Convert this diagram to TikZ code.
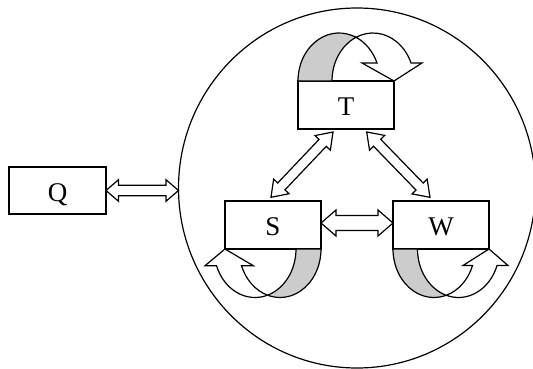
\documentclass[tikz,border=0pt]{standalone}
\usepackage{fontspec}
\setmainfont{Liberation Serif}
\usetikzlibrary{shapes.geometric,calc}
\tikzset{
  boxnode/.style={draw, line width=1.25pt, fill=white, minimum width=96pt, minimum height=48pt,
    inner sep=0pt, outer sep=0pt, font=\fontsize{27}{30}\selectfont, text height=21.9pt, text depth=0pt},
  ring/.style={draw, line width=1.2pt, ellipse, minimum width=357pt, minimum height=360pt,
    inner sep=0pt, outer sep=0pt},
  blockarrow/.style={draw, line width=1.2pt, fill=white, line join=miter},
  shadeband/.style={draw, line width=1.2pt, fill=black!20, line join=miter},
  frontband/.style={draw, line width=1.2pt, fill=white, line join=miter},
}
% #1 rx, #2 ry, #3 band thickness, #4 head base height, #5 inner barb, #6 outer barb, #7 tip
\newcommand\myturn[7]{%
  \pgfmathsetmacro\utA{acos(#3/(2*#1))}%
  \pgfmathsetmacro\utB{180-\utA}%
  \pgfmathsetmacro\utP{asin(#4/#2)}%
  \pgfmathsetmacro\utH{#1+#1*cos(\utP)}%
  \pgfmathsetmacro\utX{#1+#3/2}%
  \pgfmathsetmacro\utY{#2*sin(\utA)}%
  \path[shadeband] (0,0) arc[start angle=180,end angle=\utA,x radius=#1,y radius=#2]
     arc[start angle=\utB,end angle=180,x radius=#1,y radius=#2] -- cycle;
  \path[frontband] (\utX,\utY) arc[start angle=\utB,end angle=\utP,x radius=#1,y radius=#2]
     -- (#6,#4) -- (#7,0) -- (#5,#4) -- (\utH,#4)
     arc[start angle=\utP,end angle=\utA,x radius=#1,y radius=#2] -- cycle;
}
% #1 from, #2 to, #3 shaft half width, #4 head half width, #5 head length
\newcommand\myblockarrow[5]{%
  \coordinate (ba1) at #1;
  \coordinate (ba2) at #2;
  \coordinate (bh1) at ($(ba1)!#5!(ba2)$);
  \coordinate (bh2) at ($(ba2)!#5!(ba1)$);
  \path[blockarrow] (ba1) -- ($(bh1)!#4!90:(ba2)$) -- ($(bh1)!#3!90:(ba2)$)
    -- ($(bh2)!#3!-90:(ba1)$) -- ($(bh2)!#4!-90:(ba1)$) -- (ba2)
    -- ($(bh2)!#4!90:(ba1)$) -- ($(bh2)!#3!90:(ba1)$)
    -- ($(bh1)!#3!-90:(ba2)$) -- ($(bh1)!#4!-90:(ba2)$) -- cycle;
}
\begin{document}
\begin{tikzpicture}[x=1pt,y=1pt]
\useasboundingbox (0,0) rectangle (533,368);
\clip (0,0) rectangle (533,368);
\fill[white] (0,0) rectangle (533,368);
\node[ring] (C) at (357,180) {};
\node[boxnode, minimum width=97pt, minimum height=47pt] (Q) at (57.5,177.5) {Q};
\node[boxnode] (T) at (346,263) {T};
\node[boxnode] (S) at (273,143) {S};
\node[boxnode] (W) at (441,143) {W};
\begin{scope}[shift={(T.north west)}]
  \myturn{41}{48}{34}{18}{64}{124}{96}
\end{scope}
\begin{scope}[shift={(S.south east)}, xscale=-1, yscale=-1]
  \myturn{41}{48.5}{25}{16.7}{67.7}{116}{96}
\end{scope}
\begin{scope}[shift={(W.south west)}, yscale=-1]
  \myturn{41}{48.5}{24.5}{16.5}{70}{115}{96}
\end{scope}
\myblockarrow{(Q.east)}{(Q.east -| C.west)}{5.3pt}{10.8pt}{12.5pt}
\myblockarrow{([yshift=2pt]S.east)}{([yshift=2pt]W.west)}{7.5pt}{13pt}{15pt}
\myblockarrow{([shift={(-13pt,-3pt)}]T.south)}{([shift={(-2pt,3.7pt)}]S.north)}{5pt}{10.6pt}{15pt}
\myblockarrow{([shift={(20.7pt,-3pt)}]T.south)}{([shift={(-11pt,3.7pt)}]W.north)}{5pt}{10.6pt}{15pt}
\end{tikzpicture}
\end{document}
